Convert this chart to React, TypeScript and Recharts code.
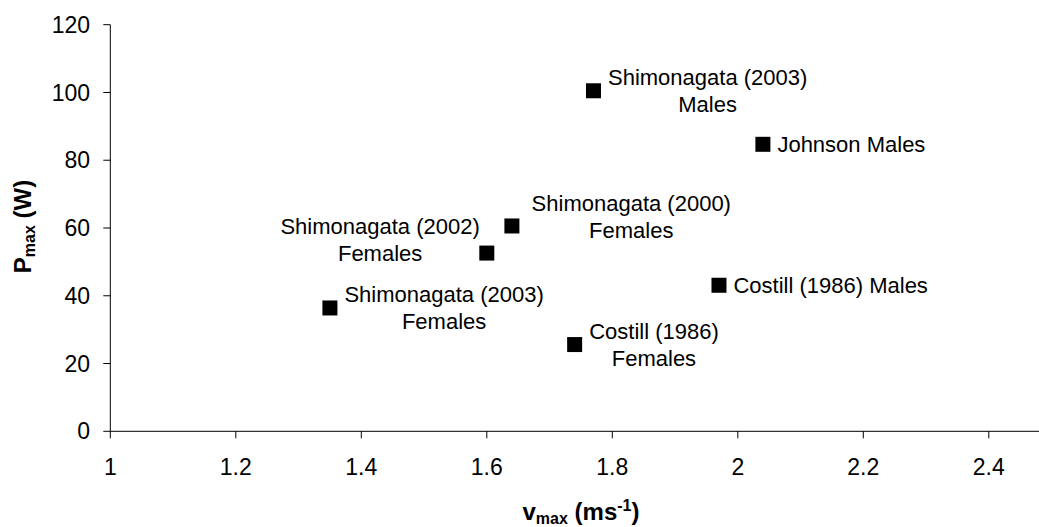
import { ScatterChart, Scatter, XAxis, YAxis } from "recharts"

// study labels, one entry per plotted square
const studyLabels = [
  ["Shimonagata (2003)", "Males"],
  ["Johnson Males"],
  ["Shimonagata (2000)", "Females"],
  ["Shimonagata (2002)", "Females"],
  ["Costill (1986) Males"],
  ["Shimonagata (2003)", "Females"],
  ["Costill (1986)", "Females"],
]
const vmax = [1.77, 2.04, 1.64, 1.6, 1.97, 1.35, 1.74]
const pmax = [100.5, 84.7, 60.6, 52.6, 43.1, 36.4, 25.6]
const labelSide = ["right", "right", "aboveRight", "left", "right", "right", "right"]

const xTicks = [1, 1.2, 1.4, 1.6, 1.8, 2, 2.2, 2.4]
const yTicks = [0, 20, 40, 60, 80, 100, 120]

const data = vmax.map((v, i) => ({ v, p: pmax[i], i }))

const FONT = "'Liberation Sans', Arial, Helvetica, sans-serif"
const LABEL_SIZE = 22
const CAP = LABEL_SIZE * 0.716
const LINE = 26.8

let ctx: CanvasRenderingContext2D | null = null
function textWidth(s: string) {
  if (!ctx) ctx = document.createElement("canvas").getContext("2d")
  if (!ctx) return s.length * LABEL_SIZE * 0.5
  ctx.font = `${LABEL_SIZE}px 'Liberation Sans'`
  return ctx.measureText(s).width
}

function Marker(props: any) {
  const { cx, cy, payload } = props
  const lines = studyLabels[payload.i]
  const side = labelSide[payload.i]
  const w = Math.max(...lines.map(textWidth))
  let centerX = cx + 14.5 + w / 2
  let centerY = cy
  if (side === "left") {
    centerX = cx - 7 - w / 2
    centerY = cy - 13.3
  } else if (side === "aboveRight") {
    centerX = cx + 19.7 + w / 2
    centerY = cy - 9.7
  }
  const top = centerY - ((lines.length - 1) * LINE + CAP) / 2
  return (
    <g>
      <rect x={cx - 7.5} y={cy - 7.5} width={15} height={15} fill="#000" />
      {lines.map((l, k) => (
        <text
          key={k}
          x={centerX}
          y={top + CAP + k * LINE}
          textAnchor="middle"
          fontSize={LABEL_SIZE}
          fontFamily={FONT}
          fill="#000"
        >
          {l}
        </text>
      ))}
    </g>
  )
}

const XTitle = () => (
  <text x={581} y={520} textAnchor="middle" fontSize={24} fontWeight="bold" fontFamily={FONT} fill="#000">
    v
    <tspan fontSize={16} dy={4}>max</tspan>
    <tspan dy={-4}> (ms</tspan>
    <tspan fontSize={16} dy={-9}>-1</tspan>
    <tspan dy={9}>)</tspan>
  </text>
)

const YTitle = () => (
  <text
    x={31}
    y={226.5}
    transform="rotate(-90, 31, 226.5)"
    textAnchor="middle"
    fontSize={24}
    fontWeight="bold"
    fontFamily={FONT}
    fill="#000"
  >
    P
    <tspan fontSize={16} dy={4}>max</tspan>
    <tspan dy={-4}> (W)</tspan>
  </text>
)

export default function App() {
  return (
    <div style={{ position: "absolute", left: 0, top: 0 }}>
      <ScatterChart
        width={1039}
        height={527}
        margin={{ top: 24.7, right: 0, bottom: 0, left: 0 }}
        style={{ fontFamily: FONT }}
      >
        <XAxis
          type="number"
          dataKey="v"
          domain={[1, 2.48]}
          ticks={xTicks}
          interval={0}
          height={95.7}
          tickSize={7}
          tickMargin={20}
          axisLine={{ stroke: "#000" }}
          tickLine={{ stroke: "#000" }}
          tick={{ fill: "#000", fontSize: 23, fontFamily: FONT }}
          label={XTitle}
        />
        <YAxis
          type="number"
          dataKey="p"
          domain={[0, 120]}
          ticks={yTicks}
          interval={0}
          width={110.3}
          tickSize={7}
          tickMargin={13.3}
          axisLine={{ stroke: "#000" }}
          tickLine={{ stroke: "#000" }}
          tick={{ fill: "#000", fontSize: 23, fontFamily: FONT }}
          label={YTitle}
        />
        <Scatter data={data} shape={Marker} isAnimationActive={false} />
      </ScatterChart>
    </div>
  )
}
